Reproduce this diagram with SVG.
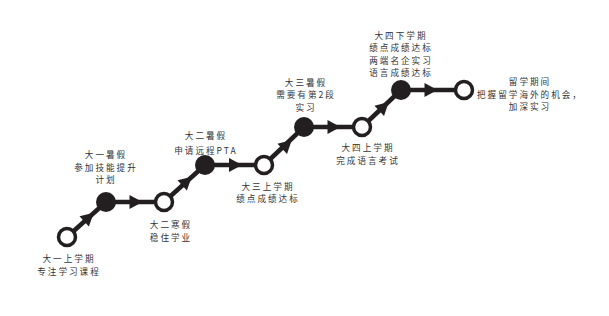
<svg xmlns="http://www.w3.org/2000/svg" xmlns:xlink="http://www.w3.org/1999/xlink" width="609" height="316" viewBox="0 0 609 316">
<style>
.ln{fill:none;stroke:#231f20;stroke-width:4.5;stroke-linejoin:round}
.op{fill:#fff;stroke:#231f20;stroke-width:3.5}
.fl{fill:#231f20}
.ar{fill:#231f20}
text{font-family:"Noto Sans CJK SC","Liberation Sans",sans-serif;font-size:8.6px;letter-spacing:2px;fill:#333;text-anchor:middle}
</style>
<defs>
<path id="ah" d="M-6.5,-7 L6.5,0 L-6.5,7 Z"/>
</defs>
<rect width="609" height="316" fill="#fff"/>
<g id="connectors">
<path class="ln" d="M67,237 L106,202 L164,202 L205,165 L264,165 L304,127 L362,127 L401,90 L464,90"/>
<use href="#ah" class="ar" transform="translate(89,217) rotate(-42)"/>
<use href="#ah" class="ar" transform="translate(136,202)"/>
<use href="#ah" class="ar" transform="translate(187,181) rotate(-42)"/>
<use href="#ah" class="ar" transform="translate(235.5,165)"/>
<use href="#ah" class="ar" transform="translate(287,144.5) rotate(-43)"/>
<use href="#ah" class="ar" transform="translate(334,127)"/>
<use href="#ah" class="ar" transform="translate(384,106.5) rotate(-43)"/>
<use href="#ah" class="ar" transform="translate(431,90)"/>
</g>
<g id="n1"><circle class="op" cx="67" cy="237" r="8.5"/><text x="69" y="262">大一上学期<tspan x="69" dy="12.5">专注学习课程</tspan></text></g>
<g id="n2"><circle class="fl" cx="106" cy="202" r="10"/><text x="106" y="158">大一暑假<tspan x="106" dy="12.5">参加技能提升</tspan><tspan x="106" dy="12.5">计划</tspan></text></g>
<g id="n3"><circle class="op" cx="164" cy="202" r="8.5"/><text x="171" y="228">大二寒假<tspan x="171" dy="12.5">稳住学业</tspan></text></g>
<g id="n4"><circle class="fl" cx="205" cy="165" r="10"/><text x="206" y="138.5">大二暑假<tspan x="206" dy="15">申请远程PTA</tspan></text></g>
<g id="n5"><circle class="op" cx="264" cy="165" r="8.5"/><text x="268" y="189.5">大三上学期<tspan x="268" dy="12.5">绩点成绩达标</tspan></text></g>
<g id="n6"><circle class="fl" cx="304" cy="127" r="10"/><text x="306" y="85.5">大三暑假<tspan x="306" dy="12.5">需要有第2段</tspan><tspan x="306" dy="12.5">实习</tspan></text></g>
<g id="n7"><circle class="op" cx="362" cy="127" r="8.5"/><text x="368" y="151">大四上学期<tspan x="368" dy="12.5">完成语言考试</tspan></text></g>
<g id="n8"><circle class="fl" cx="401" cy="90" r="10"/><text x="401" y="38.5">大四下学期<tspan x="401" dy="12.5">绩点成绩达标</tspan><tspan x="401" dy="12.5">两端名企实习</tspan><tspan x="401" dy="12.5">语言成绩达标</tspan></text></g>
<g id="n9"><circle class="op" cx="464" cy="90" r="8.5"/><text x="530" y="85">留学期间<tspan x="530" dy="12.5">把握留学海外的机会，</tspan><tspan x="530" dy="12.5">加深实习</tspan></text></g>
</svg>
